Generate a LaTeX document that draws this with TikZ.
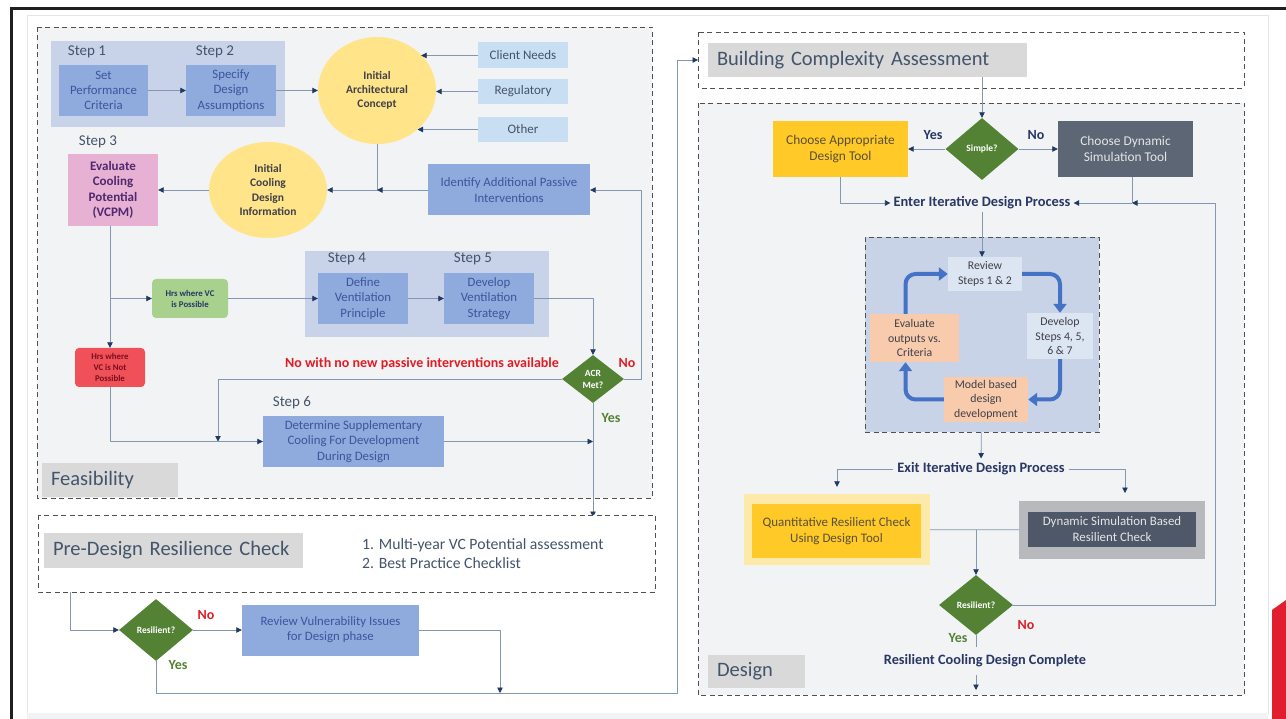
\documentclass[tikz,border=0pt]{standalone}
\usepackage{fontspec}
\setmainfont{Carlito}
\usetikzlibrary{arrows.meta,shapes.geometric}

\newcommand\fsz[2]{\fontsize{#1}{#2}\selectfont}

\definecolor{lnc}{RGB}{132,151,176}
\definecolor{tipc}{RGB}{31,56,100}
\definecolor{boxc}{RGB}{143,170,220}
\definecolor{boxt}{RGB}{62,84,158}
\definecolor{grpc}{RGB}{200,211,234}
\definecolor{inpc}{RGB}{200,222,242}
\definecolor{txtc}{RGB}{68,84,106}
\definecolor{dtxt}{RGB}{64,64,72}
\definecolor{circc}{RGB}{255,228,138}
\definecolor{pinkc}{RGB}{231,177,211}
\definecolor{pinkt}{RGB}{80,40,110}
\definecolor{grnbox}{RGB}{169,209,142}
\definecolor{redbox}{RGB}{240,80,88}
\definecolor{redt}{RGB}{120,15,30}
\definecolor{dgrn}{RGB}{84,130,53}
\definecolor{redl}{RGB}{222,30,36}
\definecolor{panel}{RGB}{242,243,245}
\definecolor{lblc}{RGB}{217,217,217}
\definecolor{headt}{RGB}{40,55,100}
\definecolor{yelc}{RGB}{255,201,40}
\definecolor{yelt}{RGB}{90,80,55}
\definecolor{yelo}{RGB}{253,233,169}
\definecolor{slatec}{RGB}{93,102,117}
\definecolor{slatei}{RGB}{78,88,104}
\definecolor{slateo}{RGB}{183,185,189}
\definecolor{itc}{RGB}{201,211,232}
\definecolor{revc}{RGB}{220,230,242}
\definecolor{peach}{RGB}{248,203,173}
\definecolor{cycc}{RGB}{68,114,196}
\definecolor{dashc}{RGB}{80,80,80}
\definecolor{patch}{RGB}{225,29,48}

\begin{document}
\begin{tikzpicture}[x=1pt,y=-1pt,line join=round,
  box/.style={rectangle,inner sep=0pt,align=center},
  sz/.style 2 args={minimum width=#1pt,minimum height=#2pt},
  bbox/.style={box,fill=boxc,text=boxt,font=\fsz{12.8}{15.3}},
  inbox/.style={box,fill=inpc,text=txtc,font=\fsz{13}{15}},
  circ/.style={ellipse,inner sep=0pt,fill=circc,text=dtxt,align=center,font=\bfseries\fsz{11.5}{14.2}},
  dec/.style={diamond,inner sep=0pt,fill=dgrn,text=white,align=center,font=\bfseries\fsz{9.5}{12}},
  steplbl/.style={text=txtc,font=\fsz{15}{17},inner sep=0pt},
  sect/.style={rectangle,fill=lblc,text=txtc,align=left,inner xsep=9pt,inner ysep=0pt,font=\fsz{20.5}{24}},
  cycbox/.style={box,text=dtxt,font=\fsz{11.8}{14.5}},
  ylbl/.style={text=dgrn,font=\bfseries\fsz{14}{16},inner sep=0pt},
  nlbl/.style={text=redl,font=\bfseries\fsz{14}{16},inner sep=0pt},
  dbox/.style={draw=dashc,dash pattern=on 5pt off 3.5pt,line width=0.9pt},
  ln/.style={draw=lnc,line width=0.8pt},
  lnk/.style={ln,-{Triangle[length=5.5pt,width=5.5pt,color=tipc]}},
  cyc/.style={draw=cycc,line width=4pt,rounded corners=10pt,-{Triangle[length=9pt,width=13pt]}}]

\useasboundingbox (0,0) rectangle (1286,719);
\fill[white] (0,0) rectangle (1286,719);
\fill[black!88] (10,7) rectangle (1286,10);
\fill[black!88] (10,7) rectangle (13,719);
\draw[gray!20,line width=0.8pt] (27,15) rectangle (1268,713);
\fill[panel] (27,713) rectangle (1268,719);
\fill[patch] (1272,610) -- (1286,600) -- (1286,719) -- (1272,719) -- cycle;

% feasibility
\draw[dbox,fill=panel] (37,27) rectangle (652,498);
\fill[grpc] (51,41) rectangle (285,127);
\fill[grpc] (305,251) rectangle (549,337);
\node[steplbl] (l1) at (87,52) {Step 1};
\node[steplbl] (l2) at (215,52) {Step 2};
\node[steplbl] (l3) at (98,142) {Step 3};
\node[steplbl] (l4) at (347,259) {Step 4};
\node[steplbl] (l5) at (473,259) {Step 5};
\node[steplbl] (l6) at (292,403) {Step 6};

\node[bbox,sz={89}{51}] (spc) at (103.5,90.5) {Set\\Performance\\Criteria};
\node[bbox,sz={90}{51}] (sda) at (231,90.5) {Specify\\Design\\Assumptions};
\node[circ,sz={118}{107}] (iac) at (377,90.5) {Initial\\Architectural\\Concept};
\node[inbox,sz={90}{26}] (cln) at (523,55.5) {Client Needs};
\node[inbox,sz={90}{25}] (reg) at (523,91.5) {Regulatory};
\node[inbox,sz={90}{25}] (oth) at (523,129.5) {Other};
\node[circ,sz={118}{96}] (icd) at (268,190) {Initial\\Cooling\\Design\\Information};
\node[bbox,sz={162}{51}] (iap) at (509,190) {Identify Additional Passive\\Interventions};
\node[box,fill=pinkc,text=pinkt,font=\bfseries\fsz{13}{15.3},sz={90}{72}] (vcp) at (113,190) {Evaluate\\Cooling\\Potential\\(VCPM)};
\node[box,rounded corners=4pt,fill=grnbox,text=headt,font=\bfseries\fsz{8.8}{11},sz={76}{39}] (vcy) at (190,298.5) {Hrs where VC\\is Possible};
\node[box,rounded corners=4pt,fill=redbox,text=redt,font=\bfseries\fsz{8.8}{10.8},sz={70}{39}] (vcn) at (110,367.5) {Hrs where\\VC is Not\\Possible};
\node[bbox,sz={90}{51}] (dvp) at (363,298.5) {Define\\Ventilation\\Principle};
\node[bbox,sz={90}{51}] (dvs) at (489,298.5) {Develop\\Ventilation\\Strategy};
\node[dec,sz={62}{48}] (acr) at (593,379) {ACR\\Met?};
\node[bbox,sz={181}{51}] (sup) at (353.5,441.5) {Determine Supplementary\\Cooling For Development\\During Design};
\node[nlbl] (nnp) at (422,364) {No with no new passive interventions available};
\node[nlbl] (an) at (627,363) {No};
\node[ylbl] (ay) at (611,418) {Yes};
\node[sect,text width=118pt,minimum height=34pt] (feas) at (110,480) {Feasibility};

\draw[lnk] (spc) -- (sda);
\draw[lnk] (sda) -- (iac);
\draw[lnk] (cln.west) -- (cln.west -| iac.39);
\draw[lnk] (reg.west) -- (reg.west -| iac.east);
\draw[lnk] (oth.west) -- (oth.west -| iac.-44);
\draw[lnk] (iac.south) |- (icd);
\draw[lnk] (iap) -- (iap -| iac.south);
\draw[lnk] (icd) -- (vcp);
\coordinate (jv) at (110,298.5);
\draw[ln] (vcp.south -| jv) -- (jv);
\draw[lnk] (jv) -- (vcn);
\draw[lnk] (jv) -- (vcy);
\draw[lnk] (vcy) -- (dvp);
\draw[lnk] (dvp) -- (dvs);
\draw[lnk] (dvs) -| (acr);
\draw[lnk] (acr.east) -- ++(17,0) |- (iap);
\coordinate (jn) at (218,441.5);
\draw[lnk] (acr.west) -| (jn);
\draw[lnk] (vcn.south) |- (sup);
\coordinate (jy) at (593,441.5);
\draw[lnk] (sup) -- (jy);
\coordinate (pdt) at (593,517);
\draw[lnk] (acr.south) -- (pdt);

% pre-design check
\draw[dbox,fill=white] (38,515) rectangle (655,592);
\node[sect,text width=241pt,minimum height=35pt] (pdr) at (173.5,550.5) {Pre-Design Resilience Check};
\node[anchor=west,align=left,text=txtc,font=\fsz{15.7}{19},inner sep=0pt] (chk) at (362,554) {1. Multi-year VC Potential assessment\\2. Best Practice Checklist};
\coordinate (pdb) at (70,592);
\node[dec,sz={74}{62}] (rs1) at (156,630) {Resilient?};
\node[bbox,sz={177}{51}] (rvi) at (330.5,630) {Review Vulnerability Issues\\for Design phase};
\node[nlbl] (bn) at (206,615) {No};
\node[ylbl] (by) at (178,665) {Yes};
\draw[lnk] (pdb) |- (rs1);
\draw[lnk] (rs1) -- (rvi);
\coordinate (jb) at (500,693);
\draw[lnk] (rvi) -| (jb);
\coordinate (jc) at (677,693);
\coordinate (bci) at (698,60);
\draw[lnk] (rs1.south) |- (jc) |- (bci);

% building complexity
\draw[dbox,fill=white] (698,32) rectangle (1244,88);
\node[sect,text width=301pt,minimum height=34pt] (bca) at (867.5,60) {Building Complexity Assessment};

% design
\draw[dbox,fill=panel] (698,103) rectangle (1244,695);
\node[dec,sz={73}{62}] (smp) at (982,149) {Simple?};
\node[box,fill=yelc,text=yelt,font=\fsz{13.4}{16},sz={135}{56}] (cat) at (840.5,149) {Choose Appropriate\\Design Tool};
\node[box,fill=slatec,text=white!90!black,font=\fsz{13.4}{16},sz={135}{56}] (cdt) at (1125.5,149) {Choose Dynamic\\Simulation Tool};
\node[text=headt,font=\bfseries\fsz{14}{16},inner sep=0pt] (sy) at (933,135) {Yes};
\node[text=headt,font=\bfseries\fsz{14}{16},inner sep=0pt] (sn) at (1036,135) {No};
\node[text=headt,font=\bfseries\fsz{14.4}{16},inner sep=3pt] (eid) at (982,203) {Enter Iterative Design Process};
\draw[lnk] (bca.south -| smp) -- (smp);
\draw[lnk] (smp) -- (cat);
\draw[lnk] (smp) -- (cdt);
\draw[lnk] (cat) |- (eid);
\coordinate (je) at (1132,203);
\coordinate (jr) at (1215,203);
\draw[ln] (cdt.south -| je) -- (je);
\draw[lnk] (je) -- (eid);

\node[draw=dashc,dash pattern=on 5pt off 3.5pt,line width=0.9pt,fill=itc,sz={234}{195}] (itr) at (982,334.5) {};
\node[cycbox,fill=revc,sz={74}{34}] (rvs) at (985,274) {Review\\Steps 1 \& 2};
\node[cycbox,fill=revc,sz={66}{46}] (dsp) at (1060,336) {Develop\\Steps 4, 5,\\6 \& 7};
\node[cycbox,fill=peach,sz={84}{45}] (mbd) at (986,399.5) {Model based\\design\\development};
\node[cycbox,fill=peach,sz={89}{48}] (eov) at (914.5,338) {Evaluate\\outputs vs.\\Criteria};
\draw[lnk] (eid) -- (eid |- rvs.north);
\draw[cyc] ([xshift=-9pt]eov.north) |- (rvs);
\draw[cyc] (rvs) -| (dsp);
\draw[cyc] (dsp) |- (mbd);
\draw[cyc] (mbd) -| ([xshift=-9pt]eov.south);

\node[text=headt,font=\bfseries\fsz{14.4}{16},inner sep=4pt] (xid) at (981,469) {Exit Iterative Design Process};
\draw[lnk] (itr) -- (xid);
\node[box,fill=yelo,sz={186}{71}] (qro) at (837,529.5) {};
\node[box,fill=yelc,text=yelt,font=\fsz{13}{16},sz={169}{54}] (qrc) at (836.5,531) {Quantitative Resilient Check\\Using Design Tool};
\node[box,fill=slateo,sz={186}{58}] (dso) at (1112,530) {};
\node[box,fill=slatei,text=white!90!black,font=\fsz{12.9}{16},sz={168}{35}] (dsr) at (1112,529.5) {Dynamic Simulation Based\\Resilient Check};
\draw[lnk,shorten >=7pt] (xid) -| (qro);
\coordinate (jd) at (1125,493);
\draw[lnk] (xid) -| (jd);
\draw[ln] (qro) -- (dso);
\coordinate (jq) at (976,529.5);
\node[dec,sz={74}{60}] (rs2) at (976,605) {Resilient?};
\draw[lnk] (jq) -- (rs2);
\draw[lnk] (rs2) -| (jr) -- (je);
\node[nlbl] (dn) at (1026,625) {No};
\node[ylbl] (dy) at (958,638) {Yes};
\draw[ln] (rs2.south) -- ++(0,12);
\node[text=headt,font=\bfseries\fsz{14.3}{16},inner sep=0pt] (rcd) at (985,661) {Resilient Cooling Design Complete};
\coordinate (fs) at (976,675);
\coordinate (fin) at (976,690);
\draw[lnk] (fs) -- (fin);
\node[sect,text width=79pt,minimum height=33pt] (dsg) at (756.5,671.5) {Design};

\end{tikzpicture}
\end{document}
